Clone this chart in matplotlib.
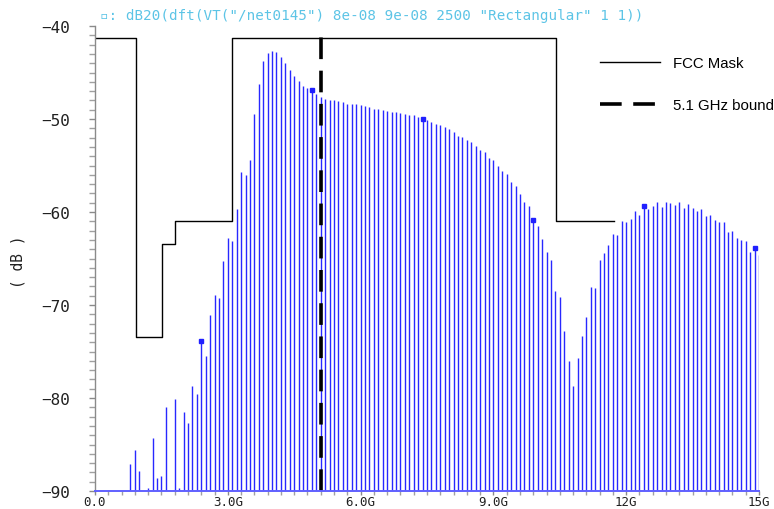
import numpy as np
import matplotlib.pyplot as plt
from matplotlib.ticker import MultipleLocator, FixedLocator, FixedFormatter

# DFT bins, 100 MHz apart (10 ns window), 0 .. 15 GHz
freq_ghz = np.round(np.arange(151) * 0.1, 1)

# dB20 magnitude of each bin (values below -90 fall off the plot)
mag_db = [
    -95.0, -95.0, -95.0, -95.0, -95.0, -95.0, -95.0, -95.0, -87.1, -85.6,
    -87.9, -95.0, -89.7, -84.3, -88.6, -88.4, -81.0, -95.0, -80.1, -89.7,
    -81.5, -82.7, -78.7, -79.6, -73.9, -75.5, -71.1, -68.9, -69.3, -65.3,
    -62.8, -63.1, -59.7, -55.7, -56.0, -54.4, -49.5, -46.2, -43.8, -42.9,
    -42.7, -42.8, -43.3, -44.0, -44.7, -45.4, -45.9, -46.4, -46.7, -46.9,
    -47.3, -47.6, -47.8, -48.0, -48.0, -48.1, -48.2, -48.4, -48.4, -48.4,
    -48.5, -48.6, -48.7, -48.9, -48.9, -49.0, -49.1, -49.2, -49.3, -49.4,
    -49.5, -49.6, -49.6, -49.8, -50.0, -50.1, -50.3, -50.5, -50.6, -50.9,
    -51.1, -51.4, -51.8, -51.9, -52.3, -52.5, -52.9, -53.3, -53.5, -54.2,
    -54.4, -55.0, -55.6, -55.9, -56.8, -57.2, -58.1, -58.9, -59.4, -60.9,
    -61.5, -62.9, -64.3, -65.2, -68.5, -69.1, -72.8, -76.0, -78.7, -75.7,
    -73.3, -71.3, -68.1, -68.2, -65.2, -64.4, -63.6, -62.4, -62.5, -61.0,
    -61.1, -60.7, -59.9, -60.3, -59.4, -59.7, -59.4, -58.9, -59.5, -58.9,
    -59.0, -59.2, -58.9, -59.6, -59.1, -59.6, -59.9, -59.7, -60.4, -60.3,
    -60.9, -61.1, -61.1, -62.2, -62.0, -62.8, -63.0, -63.1, -64.3, -63.9,
    -64.6,
]
marker_idx = [24, 49, 74, 99, 124, 149]

# FCC indoor mask as drawn (band edges in GHz, level in dB)
mask_edges = [0.0, 0.93, 1.52, 1.81, 3.1, 10.42, 11.73]
mask_levels = [-41.3, -73.4, -63.4, -61.0, -41.3, -61.0]

bound_ghz = 5.1
y_floor = -90.0

x_ticks = [0, 3, 6, 9, 12, 15]
x_labels = ['0.0', '3.0G', '6.0G', '9.0G', '12G', '15G']
y_ticks = [-90, -80, -70, -60, -50, -40]

plt.rcParams['axes.unicode_minus'] = True
mono = 'DejaVu Sans Mono'

fig = plt.figure(figsize=(7.74, 5.10), dpi=100)
ax = fig.add_axes([95 / 774, 1 - 492 / 510, (759 - 95) / 774, (492 - 27) / 510])

mag = np.array(mag_db)
ax.vlines(freq_ghz, y_floor, mag, color='#2828ff', linewidth=1.0)
ax.plot(freq_ghz[marker_idx], mag[marker_idx], linestyle='none', marker='s',
        markersize=3.2, markerfacecolor='#2020ff', markeredgecolor='#2020ff')
ax.plot([0, 15], [y_floor, y_floor], color='#6060ff', linewidth=1.4, clip_on=False, zorder=3)

mask_y = mask_levels + [mask_levels[-1]]
ax.plot(mask_edges, mask_y, drawstyle='steps-post', color='black', linewidth=1.0,
        label='FCC Mask')
ax.plot([bound_ghz, bound_ghz], [y_floor, -41.1], color='black', linewidth=2.6,
        linestyle=(0, (6.0, 3.2)), label='5.1 GHz bound')

ax.set_xlim(0, 15)
ax.set_ylim(-90, -40)

for side in ('top', 'right', 'bottom'):
    ax.spines[side].set_visible(False)
ax.spines['left'].set_color('#8a8a8a')
ax.spines['left'].set_linewidth(1.0)

ax.xaxis.set_major_locator(FixedLocator(x_ticks))
ax.xaxis.set_major_formatter(FixedFormatter(x_labels))
ax.xaxis.set_minor_locator(MultipleLocator(0.3))
ax.yaxis.set_major_locator(FixedLocator(y_ticks))
ax.yaxis.set_minor_locator(MultipleLocator(1))

ax.tick_params(axis='both', which='major', direction='out', length=4, width=1,
               color='#8a8a8a', labelcolor='#202020')
ax.tick_params(axis='both', which='minor', direction='out', length=4, width=1,
               color='#a0a0a0')
ax.tick_params(axis='x', which='both', length=3)
ax.tick_params(axis='x', which='major', labelsize=9, pad=0)
ax.tick_params(axis='y', which='major', labelsize=11.5, pad=14)
for lbl in ax.get_xticklabels() + ax.get_yticklabels():
    lbl.set_family(mono)

fig.text(18 / 774, 1 - 262 / 510, '( dB )', rotation=90, ha='center', va='center',
         fontsize=10.5, family=mono, color='#202020')

fig.text(100 / 774, 1 - 16 / 510,
         '\u25ab: dB20(dft(VT("/net0145") 8e-08 9e-08 2500 "Rectangular" 1 1))',
         ha='left', va='center', fontsize=10.3, family=[mono, 'DejaVu Sans'],
         color='#5cc4e6')

ax.legend(loc='upper left', bbox_to_anchor=(600 / 774, 1 - 57 / 510),
          bbox_transform=fig.transFigure, frameon=False, borderpad=0,
          borderaxespad=0, handlelength=4.0, handletextpad=0.85,
          labelspacing=1.85, prop={'family': 'Liberation Sans', 'size': 10.8})

fig.savefig('out.png', dpi=100)
